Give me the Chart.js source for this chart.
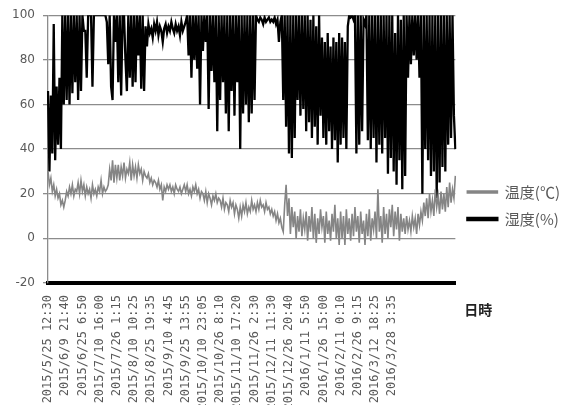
<!DOCTYPE html>
<html>
<head>
<meta charset="utf-8">
<script src="https://cdn.jsdelivr.net/npm/chart.js@4.4.1/dist/chart.umd.min.js"></script>
<style>
  html, body { margin: 0; padding: 0; background: #fff; }
  #wrap { width: 584px; height: 407px; }
</style>
</head>
<body>
<div id="wrap"><canvas id="climateChart" width="584" height="407"></canvas></div>
<script>
// tick labels shown every 12 readings
const tickLabels = [
    '2015/5/25 12:30', '2015/6/9 21:40', '2015/6/25 6:50', '2015/7/10 16:00',
    '2015/7/26 1:15', '2015/8/10 10:25', '2015/8/25 19:35', '2015/9/10 4:45',
    '2015/9/25 13:55', '2015/10/10 23:05', '2015/10/26 8:10', '2015/11/10 17:20',
    '2015/11/26 2:30', '2015/12/11 11:30', '2015/12/26 20:40', '2016/1/11 5:50',
    '2016/1/26 15:00', '2016/2/11 0:10', '2016/2/26 9:15', '2016/3/12 18:25',
    '2016/3/28 3:35'
];
const labelStep = 12;

const seriesNames = ['温度(℃)', '湿度(%)'];
const xTitle = '日時';

// 湿度 (%)
const humidity = [
    66, 30, 64, 38, 96, 35, 68, 42, 72, 40, 100, 60,
    100, 62, 100, 60, 100, 65, 100, 70, 100, 62, 100, 66,
    100, 93, 93, 72, 100, 100, 100, 68, 100, 100, 100, 100,
    100, 100, 100, 100, 100, 97, 78, 100, 68, 62, 100, 88,
    100, 70, 100, 64, 100, 100, 80, 66, 100, 72, 100, 68,
    100, 70, 100, 82, 100, 67, 100, 66, 95, 86, 96, 92,
    94, 90, 96, 93, 97, 91, 95, 93, 88, 94, 96, 92,
    95, 93, 97, 94, 92, 96, 93, 95, 91, 97, 93, 95,
    97, 100, 82, 100, 72, 100, 80, 100, 76, 100, 60, 100,
    84, 100, 88, 100, 58, 100, 75, 100, 70, 100, 48, 100,
    62, 100, 70, 100, 56, 100, 48, 100, 66, 100, 55, 100,
    70, 100, 40, 100, 56, 100, 60, 100, 52, 100, 56, 100,
    62, 100, 98, 97, 99, 98, 96, 99, 97, 98, 99, 97,
    98, 97, 99, 96, 98, 88, 97, 100, 62, 100, 50, 100,
    38, 100, 36, 100, 45, 100, 62, 100, 55, 100, 58, 100,
    48, 100, 52, 98, 45, 100, 50, 95, 42, 100, 55, 90,
    45, 88, 42, 92, 48, 86, 40, 90, 44, 88, 34, 92,
    42, 90, 45, 88, 40, 95, 100, 99, 100, 98, 100, 38,
    100, 42, 100, 48, 98, 96, 100, 44, 100, 40, 100, 45,
    100, 34, 100, 42, 100, 38, 100, 45, 100, 29, 100, 36,
    100, 30, 92, 24, 100, 35, 98, 22, 100, 28, 100, 72,
    100, 78, 100, 82, 100, 80, 100, 72, 100, 20, 100, 40,
    100, 35, 100, 28, 100, 30, 100, 18, 100, 25, 100, 32,
    100, 30, 100, 42, 100, 45, 100, 55, 40
];

// 温度 (℃)
const temperature = [
    30, 24, 27, 21, 24, 19, 22, 18, 20, 15, 17, 14,
    17, 21, 19, 23, 20, 24, 19, 22, 21, 25, 20, 26,
    21, 24, 19, 23, 20, 22, 18, 24, 20, 22, 19, 23,
    21, 26, 20, 23, 21, 22, 24, 31, 26, 35, 25, 33,
    27, 33, 26, 32, 28, 34, 27, 31, 29, 34, 26, 33,
    28, 32, 27, 33, 29, 31, 26, 30, 28, 27, 29, 25,
    27, 24, 26, 25, 23, 26, 22, 24, 17, 23, 21, 24,
    22, 24, 21, 23, 20, 24, 22, 21, 23, 20, 22, 24,
    21, 24, 20, 22, 19, 23, 21, 24, 20, 22, 18, 21,
    20, 17, 21, 16, 20, 18, 15, 19, 17, 20, 16, 18,
    17, 14, 18, 13, 16, 15, 12, 17, 14, 16, 11, 15,
    13, 9, 14, 10, 15, 12, 16, 11, 14, 12, 17, 13,
    15, 12, 16, 13, 17, 14, 15, 12, 16, 13, 14, 11,
    13, 10, 12, 8, 11, 7, 9, 5, 3, 15, 24, 10,
    18, 2, 14, 5, 12, 0, 10, 3, 13, 1, 9, 4,
    12, -1, 10, 3, 14, 0, 11, -2, 9, 2, 13, 5,
    10, -2, 12, 2, 8, -1, 11, 3, 15, 0, 9, -3,
    12, 0, 10, -3, 13, 2, 9, -1, 11, 1, 14, 3,
    10, -2, 12, 2, 8, -3, 11, 1, 13, -1, 9, 4,
    12, 0, 22, 3, 10, -2, 14, 2, 11, 0, 13, 5,
    15, 1, 12, 4, 14, -1, 11, 3, 9, 2, 10, 4,
    8, 3, 10, 5, 9, 2, 11, 6, 12, 8, 16, 10,
    18, 9, 20, 12, 17, 10, 22, 14, 19, 11, 21, 13,
    20, 12, 23, 14, 25, 16, 22, 18, 28
];

const labels = humidity.map((_, i) => String(i));

const tickColor = '#595959';
const font = "'DejaVu Sans', sans-serif";

// axis title sits to the right of the x axis, like the original
const xTitlePlugin = {
    id: 'xTitle',
    afterDraw(chart) {
        const { ctx, chartArea } = chart;
        ctx.save();
        ctx.fillStyle = '#222';
        ctx.font = "bold 14px 'Noto Sans CJK JP', sans-serif";
        ctx.textBaseline = 'middle';
        ctx.fillText(xTitle, chartArea.right + 9, chartArea.bottom + 27);
        ctx.restore();
    }
};

new Chart(document.getElementById('climateChart'), {
    type: 'line',
    data: {
        labels: labels,
        datasets: [
            {
                label: seriesNames[0],
                data: temperature,
                borderColor: '#858585',
                backgroundColor: '#858585',
                borderWidth: 1.6,
                pointRadius: 0,
                tension: 0
            },
            {
                label: seriesNames[1],
                data: humidity,
                borderColor: '#000000',
                backgroundColor: '#000000',
                borderWidth: 2.3,
                pointRadius: 0,
                tension: 0
            }
        ]
    },
    options: {
        responsive: false,
        animation: false,
        layout: { padding: { top: 6, right: 14, left: 0, bottom: 2 } },
        plugins: {
            tooltip: { enabled: false },
            legend: {
                position: 'right',
                labels: {
                    boxWidth: 30,
                    boxHeight: 2,
                    padding: 12,
                    color: tickColor,
                    font: { size: 15, family: "'Noto Sans CJK JP', sans-serif" }
                }
            }
        },
        scales: {
            x: {
                grid: { display: false },
                border: { color: '#000', width: 4 },
                ticks: {
                    autoSkip: false,
                    minRotation: 90,
                    maxRotation: 90,
                    color: tickColor,
                    padding: 4,
                    font: { size: 12, family: "'DejaVu Sans Mono', monospace" },
                    callback: function (value, index) {
                        const k = index / labelStep;
                        return (index % labelStep === 0 && k < tickLabels.length) ? tickLabels[k] : '';
                    }
                },
                afterFit: scale => { scale.height = 122; }
            },
            y: {
                min: -20,
                max: 100,
                ticks: {
                    stepSize: 20,
                    color: tickColor,
                    padding: 8,
                    font: { size: 12, family: font }
                },
                grid: { color: '#8c8c8c', lineWidth: 1.3, tickLength: 5 },
                border: { color: '#8c8c8c', width: 1.3 },
                afterFit: scale => { scale.width = 48; }
            }
        }
    },
    plugins: [xTitlePlugin]
});
</script>
</body>
</html>
